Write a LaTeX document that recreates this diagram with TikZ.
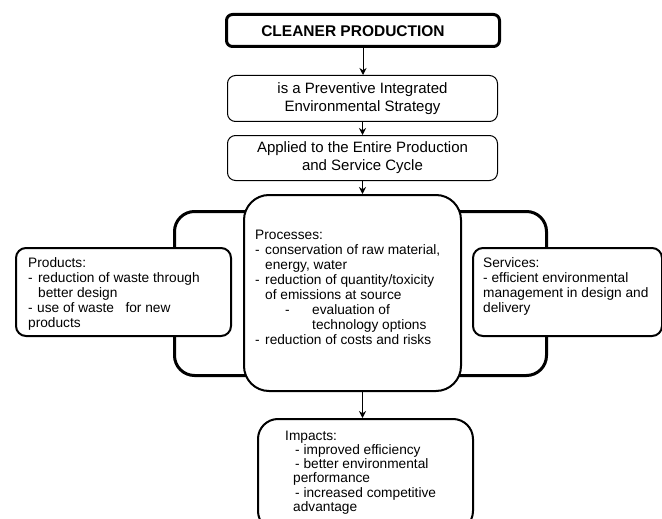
\documentclass[tikz,border=0pt]{standalone}
\usepackage{fontspec}
\setmainfont{Liberation Sans}
\usetikzlibrary{arrows.meta}
\newcommand\tstrut{\rule{0pt}{11pt}}
\begin{document}
\begin{tikzpicture}[x=1pt,y=-1pt,
  box/.style={draw,rounded corners=#1,inner sep=0pt,anchor=north west,fill=white},
  txt/.style={anchor=north west,inner sep=0pt,align=left,font=\fontsize{13.7}{15}\selectfont},
  ctxt/.style={align=center,font=\fontsize{15}{18}\selectfont},
  arr/.style={-{Stealth[length=7pt,width=7pt]},line width=1pt}
]
\useasboundingbox (0,0) rectangle (662,519);
\clip (0,0) rectangle (662,519);
\fill[white] (0,0) rectangle (662,519);

% top boxes
\node[box=6,line width=3pt,minimum width=273pt,minimum height=32pt] (top) at (225,13) {};
\node[anchor=base,inner sep=0pt,font=\bfseries\fontsize{15.5}{18}\selectfont] (toptxt) at (353,37) {CLEANER PRODUCTION};
\node[box=8,line width=1pt,minimum width=270pt,minimum height=46pt,ctxt] (b2) at (227,75)
  {is a Preventive Integrated\\Environmental Strategy};
\node[box=8,line width=1pt,minimum width=270pt,minimum height=45pt,ctxt] (b3) at (227,135)
  {Applied to the Entire Production\\and Service Cycle};

% background frame
\node[box=20,line width=3pt,minimum width=372pt,minimum height=164pt] (frame) at (173,210) {};

% side boxes
\node[box=10,line width=2pt,minimum width=215pt,minimum height=88pt] (prod) at (15,247) {};
\node[box=10,line width=2pt,minimum width=189pt,minimum height=88pt] (serv) at (472,247) {};

% process box
\node[box=25,line width=2pt,minimum width=217pt,minimum height=196pt] (proc) at (243,194) {};

% impacts box
\node[box=20,line width=2pt,minimum width=215pt,minimum height=112pt] (imp) at (257,418) {};

% texts
\node[txt] (prodtxt) at (28,256) {\tstrut Products:\\
\makebox[10pt][l]{-}reduction of waste through\\
\hspace*{10pt}better design\\
\makebox[9pt][l]{-}use of waste\ \ \ for new\\
products};

\node[txt] (proctxt) at (255,228) {\tstrut Processes:\\
\makebox[10pt][l]{-}conservation of raw material,\\
\hspace*{10pt}energy, water\\
\makebox[10pt][l]{-}reduction of quantity/toxicity\\
\hspace*{10pt}of emissions at source\\
\hspace*{30pt}\makebox[27pt][l]{-}evaluation of\\
\hspace*{57pt}technology options\\
\makebox[10pt][l]{-}reduction of costs and risks};

\node[txt] (servtxt) at (483,256) {\tstrut Services:\\
- efficient environmental\\
management in design and\\
delivery};

\node[txt,font=\fontsize{13.7}{14.2}\selectfont] (imptxt) at (285,429) {\tstrut Impacts:\\
\hspace*{10pt}- improved efficiency\\
\hspace*{10pt}- better environmental\\
\hspace*{8pt}performance\\
\hspace*{10pt}- increased competitive\\
\hspace*{8pt}advantage};

% arrows
\draw[arr] (top.south) -- (top.south |- b2.north);
\draw[arr] (b2.south) -- (b2.south |- b3.north);
\draw[arr] (b3.south) -- (b3.south |- proc.north);
\draw[arr] (proc.south -| b3.south) -- (b3.south |- imp.north);
\end{tikzpicture}
\end{document}
